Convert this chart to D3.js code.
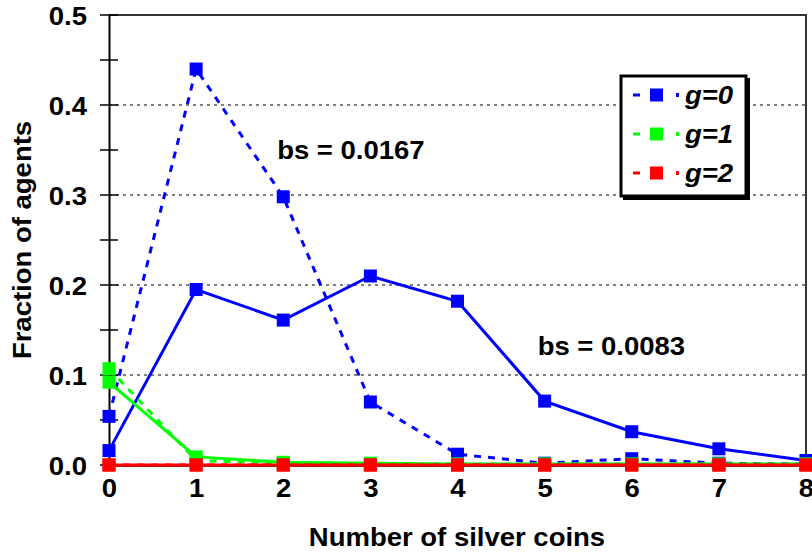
<!DOCTYPE html>
<html><head><meta charset="utf-8">
<script src="https://cdn.jsdelivr.net/npm/d3@7/dist/d3.min.js"></script>
<style>body{margin:0;background:#fff;} text{font-family:"Liberation Sans",Arial,sans-serif;font-weight:bold;}</style>
</head><body><svg id="c" width="812" height="554"></svg>
<script>
const coins = [0,1,2,3,4,5,6,7,8];
// bs = 0.0167 (dashed)
const g0Dashed = [0.054,0.440,0.298,0.070,0.012,0.002,0.007,0.002,0.001];
const g1Dashed = [0.107,0.005,0.002,0.001,0.001,0.001,0.001,0.001,0.001];
const g2Dashed = [0,0,0,0,0,0,0,0,0];
// bs = 0.0083 (solid)
const g0Solid = [0.016,0.195,0.161,0.210,0.182,0.071,0.037,0.018,0.005];
const g1Solid = [0.092,0.009,0.003,0.002,0.001,0.001,0.001,0.001,0.001];
const g2Solid = [0,0,0,0,0,0,0,0,0];
const yTicks = [0.0,0.1,0.2,0.3,0.4,0.5];
const groups = ["g=0","g=1","g=2"];
const colors = ["#0000ff","#00ff00","#ff0000"];
const annotations = [{text:"bs = 0.0167", x:1.93, y:0.340},{text:"bs = 0.0083", x:4.92, y:0.122}];

const FS = 25, SX = 1.1;
const svg = d3.select("#c");
const L=109,R=806,T=15,B=465;
const x = d3.scaleLinear().domain([0,8]).range([L,R]);
const y = d3.scaleLinear().domain([0,0.5]).range([B,T]);

// gridlines
svg.append("g").selectAll("line").data([0.1,0.2,0.3,0.4]).join("line")
  .attr("x1",L).attr("x2",R).attr("y1",d=>y(d)).attr("y2",d=>y(d))
  .attr("stroke","#808080").attr("stroke-width",2).attr("stroke-dasharray","3,4");

// frame top/right
svg.append("path").attr("d",`M${L},${T}H${R}V${B}`).attr("fill","none").attr("stroke","#333").attr("stroke-width",2);

// y axis
const ya = d3.axisLeft(y).tickValues(yTicks).tickFormat(d3.format(".1f")).tickSize(0).tickPadding(20);
const yg = svg.append("g").attr("transform",`translate(${L},0)`).call(ya);
yg.select(".domain").attr("stroke","#000").attr("stroke-width",2);
yg.selectAll("text").attr("font-size",FS).attr("fill","#000").style("font-weight","bold")
  .attr("dy","0.36em").attr("transform",`scale(${SX},1)`);
svg.append("g").selectAll("line").data(d3.range(0,0.5001,0.05)).join("line")
  .attr("x1",L-9).attr("x2",L+9).attr("y1",d=>y(d)).attr("y2",d=>y(d)).attr("stroke","#000").attr("stroke-width",1.5);

// x axis
const xa = d3.axisBottom(x).tickValues(coins).tickFormat(d3.format("d")).tickSize(6).tickPadding(8);
const xg = svg.append("g").attr("transform",`translate(0,${B})`).call(xa);
xg.select(".domain").attr("stroke","#000").attr("stroke-width",2.5);
xg.selectAll(".tick line").attr("stroke","#000").attr("stroke-width",1.5);
xg.selectAll("text").attr("font-size",FS).attr("fill","#000").style("font-weight","bold").attr("transform",`scale(${SX},1)`);

// axis titles
svg.append("text").attr("transform",`translate(457,546) scale(${SX},1)`).attr("text-anchor","middle").attr("font-size",FS).text("Number of silver coins");
svg.append("text").attr("transform",`translate(31,240) rotate(-90) scale(${SX},1)`).attr("text-anchor","middle").attr("font-size",FS).text("Fraction of agents");

const line = d3.line().x((d,i)=>x(coins[i])).y(d=>y(d));
const series = [
  {vals:g0Dashed,c:0,dash:"7,7"},{vals:g0Solid,c:0,dash:null},
  {vals:g1Dashed,c:1,dash:"7,7"},{vals:g1Solid,c:1,dash:null},
  {vals:g2Dashed,c:2,dash:"7,7"},{vals:g2Solid,c:2,dash:null}
];
series.forEach(s=>{
  const g = svg.append("g");
  g.append("path").attr("d",line(s.vals)).attr("fill","none").attr("stroke",colors[s.c]).attr("stroke-width",3)
    .attr("stroke-dasharray",s.dash);
  g.selectAll("rect").data(s.vals).join("rect")
    .attr("x",(d,i)=>x(coins[i])-6.5).attr("y",d=>y(d)-6.5).attr("width",13).attr("height",13).attr("fill",colors[s.c]);
});

// annotations
annotations.forEach(a=>{
  svg.append("text").attr("transform",`translate(${x(a.x)},${y(a.y)}) scale(${SX},1)`).attr("font-size",FS).text(a.text);
});

// legend
const lg = svg.append("g");
lg.append("rect").attr("x",623).attr("y",78).attr("width",127).attr("height",122).attr("fill","#000");
lg.append("rect").attr("x",621).attr("y",76).attr("width",125).attr("height",120).attr("fill","#fff").attr("stroke","#000").attr("stroke-width",3);
groups.forEach((g,i)=>{
  const yy = 95 + i*39;
  lg.append("line").attr("x1",633).attr("x2",650).attr("y1",yy).attr("y2",yy).attr("stroke",colors[i]).attr("stroke-width",3).attr("stroke-dasharray","7,10");
  lg.append("rect").attr("x",650).attr("y",yy-6.5).attr("width",13).attr("height",13).attr("fill",colors[i]);
  lg.append("rect").attr("x",676).attr("y",yy-2).attr("width",3).attr("height",4).attr("fill",colors[i]);
  lg.append("text").attr("transform",`translate(685,${yy+9}) scale(${SX},1)`).attr("font-size",FS).attr("font-style","italic").text(g);
});
</script></body></html>
